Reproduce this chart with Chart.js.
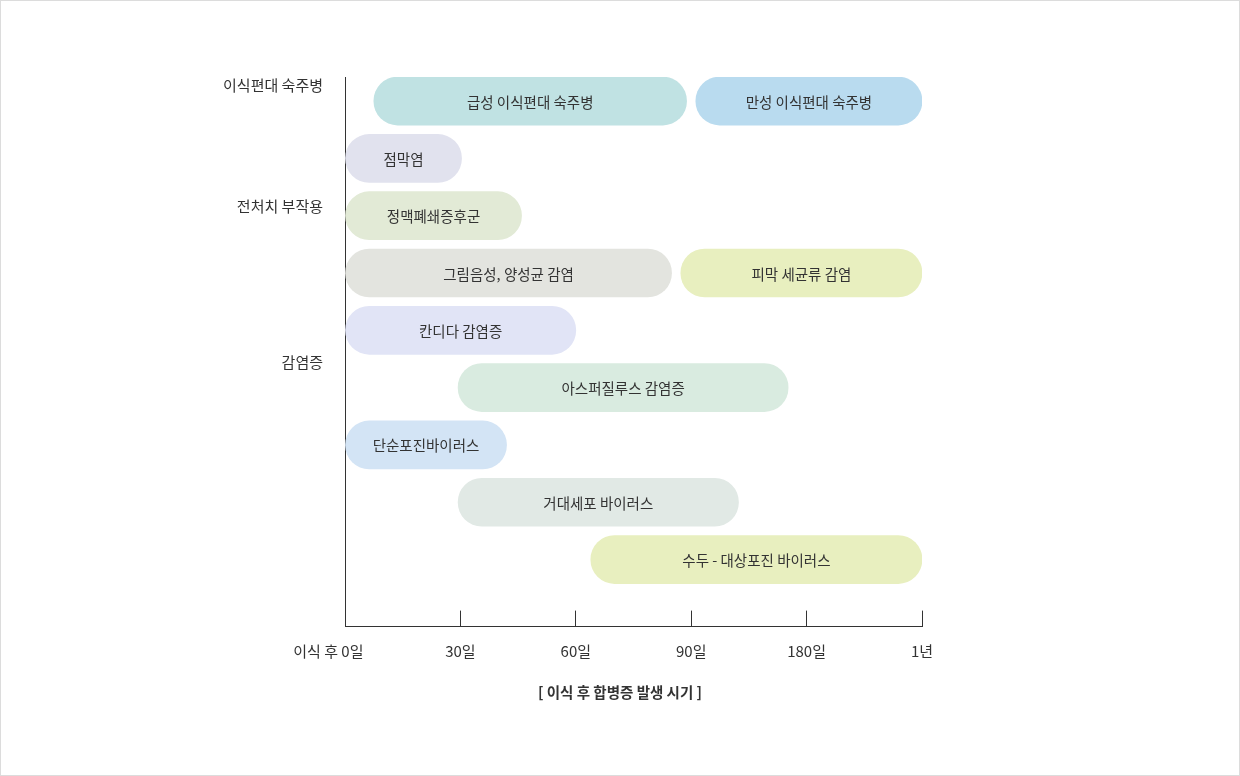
<!DOCTYPE html>
<html lang="ko">
<head>
<meta charset="UTF-8">
<title>이식 후 합병증 발생 시기</title>
<script src="https://cdn.jsdelivr.net/npm/chart.js"></script>
<style>
  body { margin: 0; background: #fff; }
  .wrap { position: relative; width: 1240px; height: 776px; }
  .wrap .frame { position: absolute; inset: 0; border: 1px solid #dcdcdc; box-sizing: border-box; pointer-events: none; }
</style>
</head>
<body>
<div class="wrap">
  <canvas id="chart" width="1240" height="776"></canvas>
  <div class="frame"></div>
</div>
<script>
// x axis: evenly spaced steps 0..5
const xTickLabels = ['이식 후 0일\u3000\u3000 ', '30일', '60일', '90일', '180일', '1년'];

// group labels on the left, positioned in row units
const groupLabels = ['이식편대 숙주병', '전처치 부작용', '감염증'];
const groupRows = [-0.28, 1.84, 4.55];

// bars
const barNames = [
  '급성 이식편대 숙주병', '만성 이식편대 숙주병', '점막염', '정맥폐쇄증후군',
  '그림음성, 양성균 감염', '피막 세균류 감염', '칸디다 감염증', '아스퍼질루스 감염증',
  '단순포진바이러스', '거대세포 바이러스', '수두 - 대상포진 바이러스'
];
const barRows  = [0, 0, 1, 2, 3, 3, 4, 5, 6, 7, 8];
const barStart = [0.25, 3.04, 0, 0, 0, 2.91, 0, 0.98, 0, 0.98, 2.13];
const barEnd   = [2.96, 5, 1.01, 1.53, 2.83, 5, 2.0, 3.84, 1.40, 3.41, 5];
const barColors = [
  '#c0e2e3', '#b9dbef', '#e1e2ee', '#e2ead6',
  '#e3e4df', '#e8efbf', '#e1e4f6', '#d9ebe0',
  '#d3e4f5', '#e1e9e5', '#e8efbf'
];

Chart.defaults.font.family = "'Noto Sans CJK KR', 'Noto Sans', sans-serif";

// names written inside each bar
const barText = {
  id: 'barText',
  afterDatasetsDraw(chart) {
    const ctx = chart.ctx;
    const meta = chart.getDatasetMeta(0);
    ctx.save();
    ctx.font = "14.5px 'Noto Sans CJK KR'";
    ctx.fillStyle = '#333';
    ctx.textAlign = 'center';
    ctx.textBaseline = 'middle';
    meta.data.forEach((bar, i) => {
      ctx.fillText(barNames[i], (bar.x + bar.base) / 2, bar.y + 1);
    });
    ctx.restore();
  }
};

new Chart(document.getElementById('chart'), {
  type: 'bar',
  data: {
    datasets: [{
      data: barRows.map((r, i) => ({ x: [barStart[i], barEnd[i]], y: r })),
      backgroundColor: barColors,
      borderRadius: 24,
      borderSkipped: false,
      barThickness: 48
    }]
  },
  options: {
    indexAxis: 'y',
    responsive: false,
    animation: false,
    // equal side padding + empty right axis keeps the bottom title at page centre
    layout: { padding: { left: 138, right: 138, top: 77, bottom: 75 } },
    plugins: {
      legend: { display: false },
      tooltip: { enabled: false },
      title: {
        display: true,
        position: 'bottom',
        text: '[ 이식 후 합병증 발생 시기 ]',
        color: '#333',
        font: { size: 14.5, weight: 'bold' },
        padding: 0
      }
    },
    scales: {
      x: {
        type: 'linear',
        position: 'bottom',
        min: 0,
        max: 5,
        ticks: {
          stepSize: 1,
          autoSkip: false,
          maxRotation: 0,
          padding: 32,
          color: '#333',
          font: { size: 15 },
          callback: v => xTickLabels[v]
        },
        grid: { drawOnChartArea: false, drawTicks: true, tickLength: -16, color: '#333', lineWidth: 1 },
        border: { display: true, color: '#333', width: 1 },
        afterFit(s) { s.height = 57; }
      },
      y: {
        type: 'linear',
        reverse: true,
        offset: false,
        min: -0.42,
        max: 9.17,
        z: 1,
        afterBuildTicks(s) { s.ticks = groupRows.map(v => ({ value: v })); },
        ticks: {
          padding: 22,
          color: '#333',
          font: { size: 15 },
          callback: (v, i) => groupLabels[i]
        },
        grid: { display: false, drawTicks: false, offset: false },
        border: { display: true, color: '#333', width: 1 },
        afterFit(s) { s.width = 207; }
      },
      y2: {
        type: 'linear',
        position: 'right',
        display: true,
        ticks: { display: false },
        grid: { display: false, drawTicks: false },
        border: { display: false },
        afterFit(s) { s.width = 180; }
      }
    }
  },
  plugins: [barText]
});
</script>
</body>
</html>
